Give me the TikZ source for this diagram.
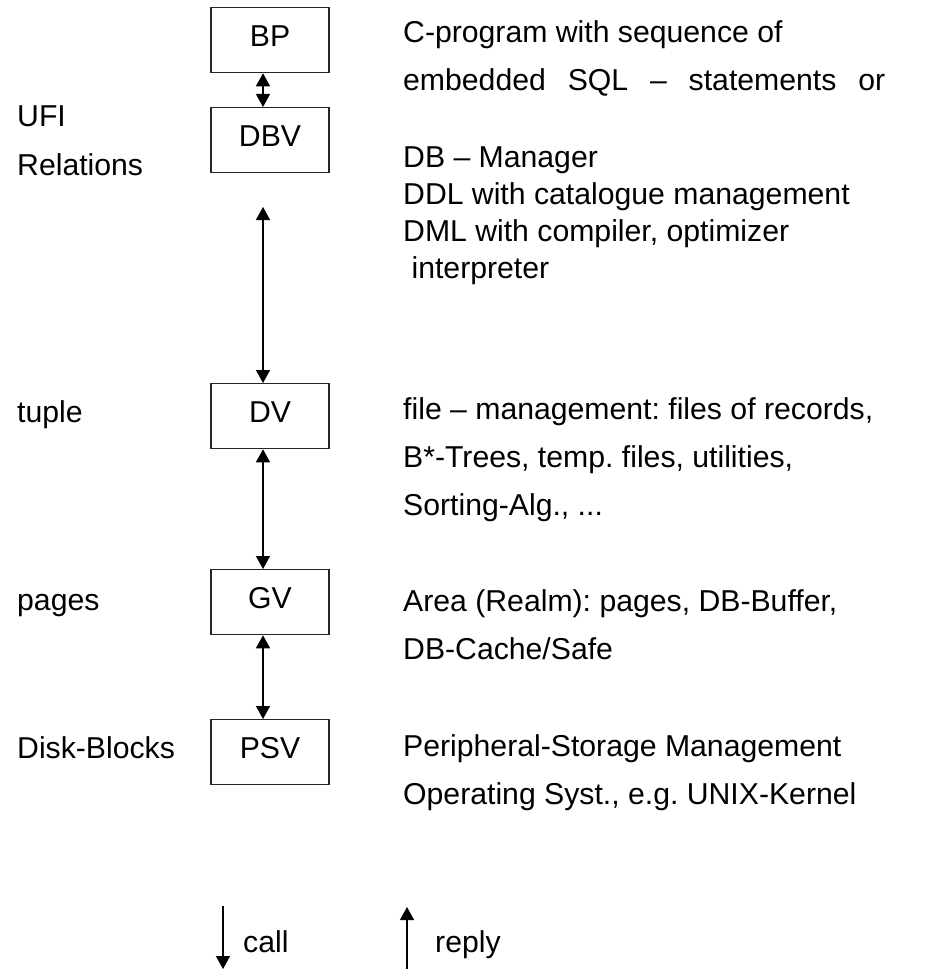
\documentclass[tikz,border=0pt]{standalone}
\usepackage{fontspec}
\setmainfont{Liberation Sans}
\usetikzlibrary{arrows.meta}
\frenchspacing

\begin{document}
\begin{tikzpicture}[x=1pt, y=-1pt, font=\fontsize{30.2}{48}\selectfont]
    % 样式:层次框、双向箭头、文字说明
    \tikzstyle{layer}=[draw=black!85, line width=1.3pt, minimum width=118pt,
        text height=39pt, text depth=26pt, inner sep=0pt, anchor=north]
    \tikzstyle{link}=[line width=1.3pt, {Triangle[width=14pt,length=13pt]}-{Triangle[width=14pt,length=13pt]}]
    % 多行文字:基线取最后一行
    \tikzstyle{lbl}=[anchor=base west, inner sep=0pt, align=left]

    \useasboundingbox (0,0) rectangle (944,971);

    % 五个层次框 (从上到下)
    \foreach \name/\txt/\y in {bp/BP/7, dbv/DBV/107, dv/DV/383, gv/GV/569, psv/PSV/719} {
        \node[layer] (\name) at (270,\y) {\txt};
    }

    % 层与层之间的箭头 (略偏左)
    \coordinate (top) at (263,207);
    \draw[link] ([xshift=-7pt]bp.south) -- ([xshift=-7pt]dbv.north);
    \draw[link] (top) -- ([xshift=-7pt]dv.north);
    \draw[link] ([xshift=-7pt]dv.south) -- ([xshift=-7pt]gv.north);
    \draw[link] ([xshift=-7pt]gv.south) -- ([xshift=-7pt]psv.north);

    % 左侧:数据单位
    \node[lbl] (ufi) at (17,175) {UFI\\Relations};
    \node[lbl] (tuple) at (17,422) {tuple};
    \node[lbl] (pages) at (17,610) {pages};
    \node[lbl] (blocks) at (17,758) {Disk-Blocks};

    % 右侧:各层说明
    \node[lbl] (bptxt) at (403,91) {C-program with sequence of\\
        \makebox[482pt][s]{embedded SQL – statements or}};
    \node[lbl, font=\fontsize{30.2}{37}\selectfont] (dbvtxt) at (403,278)
        {DB – Manager\\DDL with catalogue management\\DML with compiler, optimizer\\\ interpreter};
    \node[lbl] (dvtxt) at (403,515) {file – management: files of records,\\
        B*-Trees, temp. files, utilities,\\Sorting-Alg., ...};
    \node[lbl] (gvtxt) at (403,659) {Area (Realm): pages, DB-Buffer,\\DB-Cache/Safe};
    \node[lbl] (psvtxt) at (403,804) {Peripheral-Storage Management\\
        Operating Syst., e.g. UNIX-Kernel};

    % 图例:调用与返回
    \coordinate (callA) at (223,906);
    \coordinate (callB) at (223,969);
    \coordinate (replyA) at (407,969);
    \coordinate (replyB) at (407,907);
    \draw[line width=1.3pt, -{Triangle[width=14pt,length=13pt]}] (callA) -- (callB);
    \draw[line width=1.3pt, -{Triangle[width=14pt,length=13pt]}] (replyA) -- (replyB);
    \node[lbl] (call) at (243,952) {call};
    \node[lbl] (reply) at (435,952) {reply};
\end{tikzpicture}
\end{document}
